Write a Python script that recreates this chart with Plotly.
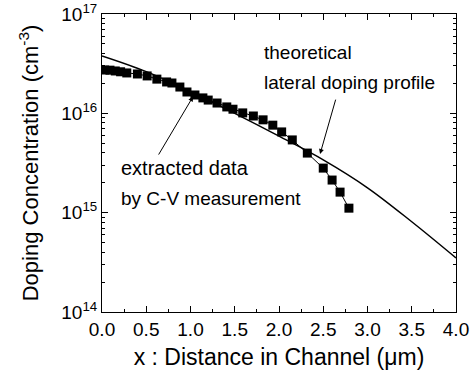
import plotly.graph_objects as go

# extracted data by C-V measurement
data_x = [0.03, 0.09, 0.15, 0.21, 0.28, 0.40, 0.51, 0.62, 0.73, 0.79, 0.88, 0.96, 1.05, 1.14,
          1.20, 1.30, 1.41, 1.48, 1.59, 1.71, 1.82, 1.93, 2.03, 2.15, 2.32, 2.50, 2.60, 2.69, 2.79]
data_y = [2.73e16, 2.72e16, 2.67e16, 2.62e16, 2.55e16, 2.49e16, 2.38e16, 2.21e16, 2.07e16, 2.02e16,
          1.84e16, 1.64e16, 1.53e16, 1.43e16, 1.36e16, 1.27e16, 1.16e16, 1.10e16, 1.01e16, 9.4e15,
          8.6e15, 7.6e15, 6.5e15, 5.4e15, 3.98e15, 2.81e15, 2.13e15, 1.61e15, 1.11e15]

# theoretical lateral doping profile
theory_x = [0.0, 0.5, 1.0, 1.5, 2.0, 2.5, 3.0, 3.5, 4.0]
theory_y = [3.78e16, 2.63e16, 1.66e16, 1.0e16, 5.9e15, 3.4e15, 1.78e15, 8.1e14, 3.5e14]

x_ticks = [0.0, 0.5, 1.0, 1.5, 2.0, 2.5, 3.0, 3.5, 4.0]
x_tick_labels = ["0.0", "0.5", "1.0", "1.5", "2.0", "2.5", "3.0", "3.5", "4.0"]
y_ticks = [1e14, 1e15, 1e16, 1e17]
y_tick_labels = ["10<sup>14</sup>", "10<sup>15</sup>", "10<sup>16</sup>", "10<sup>17</sup>"]

FONT = "Liberation Sans, Arial, sans-serif"

fig = go.Figure()
fig.add_trace(go.Scatter(x=theory_x, y=theory_y, mode="lines", line=dict(color="black", width=1.5, shape="spline"),
                         showlegend=False, hoverinfo="skip"))
fig.add_trace(go.Scatter(x=data_x, y=data_y, mode="lines+markers",
                         line=dict(color="black", width=1),
                         marker=dict(symbol="square", size=9, color="black"),
                         showlegend=False))

minor_y = [m * 10 ** e for e in (14, 15, 16) for m in range(2, 10)]

fig.update_layout(
    width=470, height=377,
    margin=dict(l=102, r=14, t=14, b=65),
    paper_bgcolor="white", plot_bgcolor="white",
    font=dict(family=FONT, color="black", size=17),
    xaxis=dict(range=[0, 4], tickvals=x_ticks, ticktext=x_tick_labels, automargin=False,
               ticks="inside", ticklen=6, tickwidth=1, tickcolor="black",
               minor=dict(tickvals=[0.25, 0.75, 1.25, 1.75, 2.25, 2.75, 3.25, 3.75], ticks="inside", ticklen=3, tickcolor="black"),
               showline=True, linecolor="black", linewidth=1, mirror="allticks", showgrid=False, zeroline=False,
               tickfont=dict(size=19),
               title=dict(text="x : Distance in Channel (\u03bcm)", font=dict(size=23), standoff=10)),
    yaxis=dict(type="log", range=[14, 17], tickvals=y_ticks, ticktext=y_tick_labels, automargin=False,
               ticks="inside", ticklen=6, tickwidth=1, tickcolor="black",
               minor=dict(tickvals=minor_y, ticks="inside", ticklen=3, tickcolor="black"),
               showline=True, linecolor="black", linewidth=1, mirror="allticks", showgrid=False, zeroline=False,
               tickfont=dict(size=19),
               title=dict(text="Doping Concentration (cm<sup>-3</sup>)", font=dict(size=22), standoff=16)),
)

ann_font = dict(family=FONT, size=19, color="black")
fig.add_annotation(x=1.81, y=17 - (52 - 14) / 99.3, xref="x", yref="y", text="theoretical",
                   showarrow=False, xanchor="left", font=ann_font)
fig.add_annotation(x=1.81, y=17 - (82 - 14) / 99.3, xref="x", yref="y", text="lateral doping profile",
                   showarrow=False, xanchor="left", font=ann_font)
fig.add_annotation(x=0.19, y=17 - (168 - 14) / 99.3, xref="x", yref="y", text="extracted data",
                   showarrow=False, xanchor="left", font=dict(family=FONT, size=20, color="black"))
fig.add_annotation(x=0.19, y=17 - (198 - 14) / 99.3, xref="x", yref="y", text="by C-V measurement",
                   showarrow=False, xanchor="left", font=ann_font)
# arrows
fig.add_annotation(x=2.464, y=15.59, xref="x", yref="y", ax=2.645, ay=16.153, axref="x", ayref="y",
                   text="", showarrow=True, arrowhead=2, arrowsize=1, arrowwidth=1, arrowcolor="black")
fig.add_annotation(x=1.03, y=16.17, xref="x", yref="y", ax=0.63, ay=15.57, axref="x", ayref="y",
                   text="", showarrow=True, arrowhead=2, arrowsize=1, arrowwidth=1, arrowcolor="black")

fig.write_html("out.html", config={"displayModeBar": False},
               post_script="document.body.style.margin='0';document.body.style.overflow='hidden';")
